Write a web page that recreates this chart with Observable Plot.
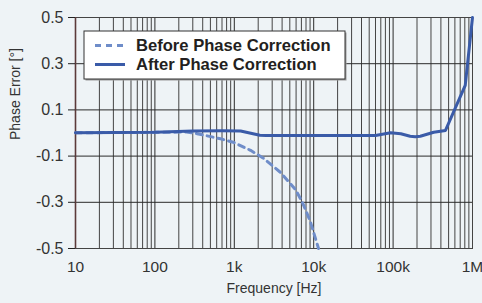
<!DOCTYPE html>
<html><head><meta charset="utf-8">
<script src="https://cdn.jsdelivr.net/npm/d3@7"></script>
<script src="https://cdn.jsdelivr.net/npm/@observablehq/plot@0.6"></script>
<style>
html,body{margin:0;padding:0;background:#eef3f6;}
</style></head><body><div id="chart"></div>
<script>
const xTicks = [10, 100, 1e3, 1e4, 1e5, 1e6];
const xTickLabels = ["10", "100", "1k", "10k", "100k", "1M"];
const yTicks = [-0.5, -0.3, -0.1, 0.1, 0.3, 0.5];
const yTickLabels = ["-0.5", "-0.3", "-0.1", "0.1", "0.3", "0.5"];

const seriesNames = ["Before Phase Correction", "After Phase Correction"];

const freqBefore = [10, 100, 250, 340, 670, 970, 1600, 2300, 3800, 5900, 7200, 9000, 11500];
const phaseBefore = [0.001, 0.003, 0.004, -0.003, -0.025, -0.04, -0.075, -0.108, -0.17, -0.245, -0.30, -0.38, -0.5];

const freqAfter = [10, 100, 300, 700, 1200, 2100, 2500, 60000, 93000, 125000, 164000, 190000, 220000, 325000, 457000, 810000, 1000000];
const phaseAfter = [0.001, 0.003, 0.009, 0.01, 0.009, -0.01, -0.011, -0.011, 0.001, -0.003, -0.014, -0.016, -0.014, 0.003, 0.011, 0.206, 0.5];

const before = freqBefore.map((f, i) => ({f, p: phaseBefore[i]}));
const after = freqAfter.map((f, i) => ({f, p: phaseAfter[i]}));

// minor log grid positions (2..9 per decade)
const minorGrid = [];
for (let e = 1; e < 6; e++) for (let n = 2; n <= 9; n++) minorGrid.push(n * Math.pow(10, e));

const font = "'Liberation Sans', Arial, Helvetica, sans-serif";
const colBefore = "#6f8dc9";
const colAfter = "#3a5ba8";

const plot = Plot.plot({
  width: 482, height: 303,
  marginLeft: 75, marginRight: 10, marginTop: 17, marginBottom: 55,
  style: {background: "#eef3f6", fontFamily: font, overflow: "visible"},
  x: {type: "log", domain: [10, 1e6]},
  y: {domain: [-0.5, 0.5]},
  marks: [
    Plot.ruleX(minorGrid, {stroke: "#444", strokeWidth: 1}),
    Plot.ruleX(xTicks, {stroke: "#2a2a2a"}),
    Plot.ruleY(yTicks, {stroke: "#2a2a2a"}),
    Plot.frame({stroke: "#444"}),
    Plot.ruleX([10], {stroke: "#5b3a3a", strokeWidth: 1.6}),
    Plot.line(before, {x: "f", y: "p", stroke: colBefore, strokeWidth: 3, strokeDasharray: "6,5"}),
    Plot.line(after, {x: "f", y: "p", stroke: colAfter, strokeWidth: 3, strokeLinejoin: "round"}),
    Plot.axisY(yTicks, {tickSize: 7, tickPadding: 5, stroke: "#222", fill: "#333", fontSize: 16,
      tickFormat: d => yTickLabels[yTicks.indexOf(d)], label: null}),
    Plot.axisX(xTicks, {tickSize: 0, tickPadding: 12, fill: "#333", fontSize: 15.5,
      tickFormat: d => xTickLabels[xTicks.indexOf(d)], label: null}),
    Plot.text(["Phase Error [°]"], {frameAnchor: "left", dx: -60, dy: 7, rotate: -90, fontSize: 14, fill: "#333"}),
    Plot.text(["Frequency [Hz]"], {frameAnchor: "bottom", dy: 44, fontSize: 14, fill: "#333"})
  ]
});

// Legend drawn inside the SVG
const svg = d3.select(plot);
const lg = svg.append("g").attr("font-family", font).attr("text-anchor", "start");
const lx = 84, ly = 31, lw = 261, lh = 48;
lg.append("rect").attr("x", lx + 1.5).attr("y", ly + 1.5).attr("width", lw).attr("height", lh).attr("fill", "#999");
lg.append("rect").attr("x", lx).attr("y", ly).attr("width", lw).attr("height", lh).attr("fill", "#fff").attr("stroke", "#333").attr("stroke-width", 1);
const rows = [
  {name: seriesNames[0], color: colBefore, dash: "6,5", y: 45.5, ty: 50.5},
  {name: seriesNames[1], color: colAfter, dash: "none", y: 64.5, ty: 69.5}
];
rows.forEach(r => {
  lg.append("line").attr("x1", 95).attr("x2", 125).attr("y1", r.y).attr("y2", r.y)
    .attr("stroke", r.color).attr("stroke-width", 3).attr("stroke-dasharray", r.dash);
  lg.append("text").attr("x", 136).attr("y", r.ty).attr("font-size", 16.6).attr("font-weight", "bold")
    .attr("text-anchor", "start").attr("fill", "#231f20").text(r.name);
});

document.getElementById("chart").appendChild(plot);
</script>
</body></html>
